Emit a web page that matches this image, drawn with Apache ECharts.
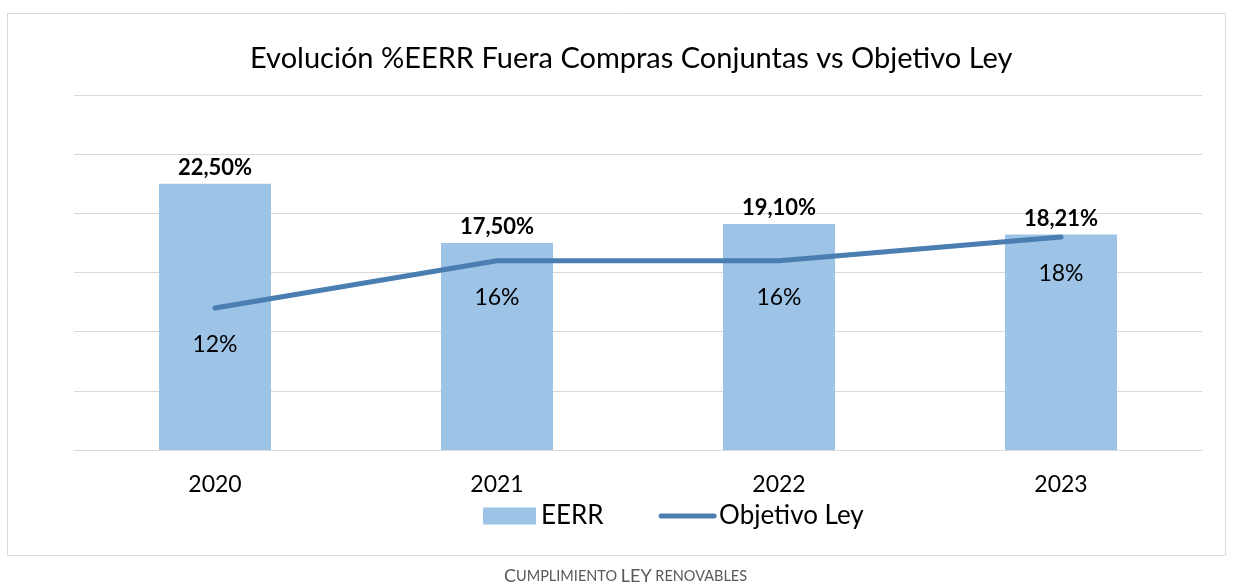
<!DOCTYPE html>
<html><head><meta charset="utf-8">
<script src="https://cdn.jsdelivr.net/npm/echarts@6/dist/echarts.min.js"></script>
<style>html,body{margin:0;padding:0;background:#fff}#c{width:1233px;height:586px}</style>
</head><body><div id="c"></div>
<script>
const categories = ['2020','2021','2022','2023'];
const eerr = [22.5, 17.5, 19.1, 18.21];
const objetivo = [12, 16, 16, 18];
const FONT = 'Lato';
const fmt = (v, d) => v.toFixed(d).replace('.', ',') + '%';
const chart = echarts.init(document.getElementById('c'));
chart.setOption({
  animation: false,
  backgroundColor: '#fff',
  textStyle: { fontFamily: FONT },
  title: {
    text: 'Evolución %EERR Fuera Compras Conjuntas vs Objetivo Ley',
    left: 245, top: 39,
    textStyle: { fontFamily: FONT, fontSize: 29, fontWeight: 'normal', color: '#000' }
  },
  graphic: [
    { type: 'rect', shape: { x: 7.5, y: 13.5, width: 1218, height: 542 },
      style: { fill: 'none', stroke: '#d9d9d9', lineWidth: 1 }, silent: true },
    { type: 'text', left: 504, top: 567,
      style: { text: '{b|C}{s|UMPLIMIENTO }{b|LEY}{s| RENOVABLES}', fill: '#595959',
        rich: { b: { fontSize: 18, fontFamily: FONT, fill: '#595959' },
                s: { fontSize: 14.5, fontFamily: FONT, fill: '#595959' } } } }
  ],
  legend: {
    top: 498, left: 478, itemGap: 55, itemWidth: 53, itemHeight: 17,
    textStyle: { fontFamily: FONT, fontSize: 26, color: '#000' },
    data: [ { name: 'EERR', icon: 'rect' },
            { name: 'Objetivo Ley', itemStyle: { opacity: 0 }, lineStyle: { width: 5, cap: 'round', color: '#4a7eb0' } } ]
  },
  grid: { left: 74, right: 31, top: 95, bottom: 136 },
  xAxis: {
    type: 'category', data: categories,
    axisLine: { lineStyle: { color: '#d9d9d9', width: 1 } },
    axisTick: { show: false },
    axisLabel: { fontFamily: FONT, fontSize: 23, color: '#000', margin: 23 }
  },
  yAxis: {
    type: 'value', min: 0, max: 30, interval: 5,
    axisLabel: { show: false }, axisLine: { show: false }, axisTick: { show: false },
    splitLine: { lineStyle: { color: '#d9d9d9', width: 1 } }
  },
  series: [
    { name: 'EERR', type: 'bar', data: eerr, barWidth: 112,
      itemStyle: { color: '#9dc3e6' },
      label: { show: true, position: 'top', distance: 5, formatter: p => fmt(p.value, 2),
        fontFamily: FONT, fontSize: 22, fontWeight: 'bold', color: '#000' } },
    { name: 'Objetivo Ley', type: 'line', data: objetivo, symbol: 'circle', symbolSize: 1,
      showSymbol: true, z: 5,
      lineStyle: { color: '#4a7eb0', width: 5, cap: 'round' }, itemStyle: { color: '#4a7eb0', opacity: 0 },
      label: { show: true, position: 'bottom', distance: 25, formatter: p => fmt(p.value, 0),
        fontFamily: FONT, fontSize: 23, color: '#000', opacity: 1 } }
  ]
});
</script></body></html>
